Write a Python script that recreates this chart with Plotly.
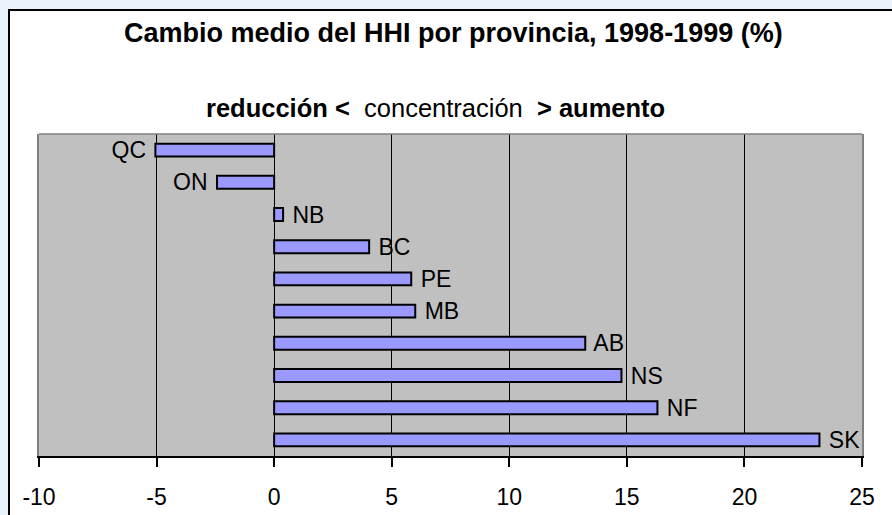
import plotly.graph_objects as go

provinces = ["QC", "ON", "NB", "BC", "PE", "MB", "AB", "NS", "NF", "SK"]
hhi_change = [-5.05, -2.43, 0.38, 4.04, 5.83, 6.0, 13.23, 14.77, 16.3, 23.19]
x_ticks = [-10, -5, 0, 5, 10, 15, 20, 25]

title_text = "Cambio medio del HHI por provincia, 1998-1999 (%)"
subtitle_text = "<b>reducción &lt;</b>&nbsp; concentración &nbsp;<b>&gt; aumento</b>"

labels = [("%s " % p) if v < 0 else (" %s" % p) for p, v in zip(provinces, hhi_change)]

W, H = 892, 515
L, R, T, B = 39, 862, 134, 456
pw, ph = R - L, B - T

def px_x(px):
    return (px - L) / pw

def px_y(py):
    return 1 - (py - T) / ph

fig = go.Figure()
fig.add_trace(go.Bar(
    x=hhi_change, y=provinces, orientation="h",
    marker=dict(color="#9999FF", line=dict(color="black", width=2)),
    text=labels, textposition="outside", constraintext="none",
    textfont=dict(family="Liberation Sans, Arial", size=23, color="black"),
    cliponaxis=False, hoverinfo="skip",
))

fig.update_layout(
    width=W, height=H,
    margin=dict(l=L, r=W - R, t=T, b=H - B, pad=0, autoexpand=False),
    paper_bgcolor="#EAF2FB",
    plot_bgcolor="#C0C0C0",
    bargap=0.6,
    showlegend=False,
    font=dict(family="Liberation Sans, Arial", color="black"),
    xaxis=dict(
        range=[-10, 25], tickvals=x_ticks, ticktext=[str(t) for t in x_ticks],
        showgrid=True, gridcolor="black", gridwidth=1.2,
        zeroline=True, zerolinecolor="black", zerolinewidth=1.2,
        showline=True, linecolor="black", linewidth=1.5,
        ticks="outside", ticklen=9, tickwidth=1.5, tickcolor="black",
        tickfont=dict(size=23, color="black"), ticklabelstandoff=11,
        fixedrange=True, automargin=False,
    ),
    yaxis=dict(
        categoryorder="array", categoryarray=provinces, autorange="reversed",
        showticklabels=False, showgrid=False, zeroline=False,
        showline=True, linecolor="#808080", linewidth=1.5, mirror=True,
        ticks="", fixedrange=True, automargin=False,
    ),
    shapes=[
        dict(type="rect", xref="paper", yref="paper", layer="below",
             x0=px_x(9), x1=px_x(900), y0=px_y(530), y1=px_y(10),
             fillcolor="white", line=dict(color="black", width=2)),
        dict(type="rect", xref="paper", yref="paper", layer="below",
             x0=0, x1=1, y0=0, y1=1,
             fillcolor="#C0C0C0", line=dict(width=0)),
        dict(type="line", xref="paper", yref="paper",
             x0=0, x1=1, y0=1, y1=1, line=dict(color="#808080", width=1.5)),
    ],
    annotations=[
        dict(text="<b>" + title_text + "</b>", xref="paper", yref="paper",
             x=px_x(453), y=px_y(33), xanchor="center", yanchor="middle",
             showarrow=False, font=dict(size=27, color="black")),
        dict(text=subtitle_text, xref="paper", yref="paper",
             x=px_x(435.5), y=px_y(108), xanchor="center", yanchor="middle",
             showarrow=False, font=dict(size=25.5, color="black")),
    ],
)

fig.write_html(
    "out.html",
    config={"displayModeBar": False},
    post_script="document.body.style.margin='0';document.body.style.overflow='hidden';",
)
